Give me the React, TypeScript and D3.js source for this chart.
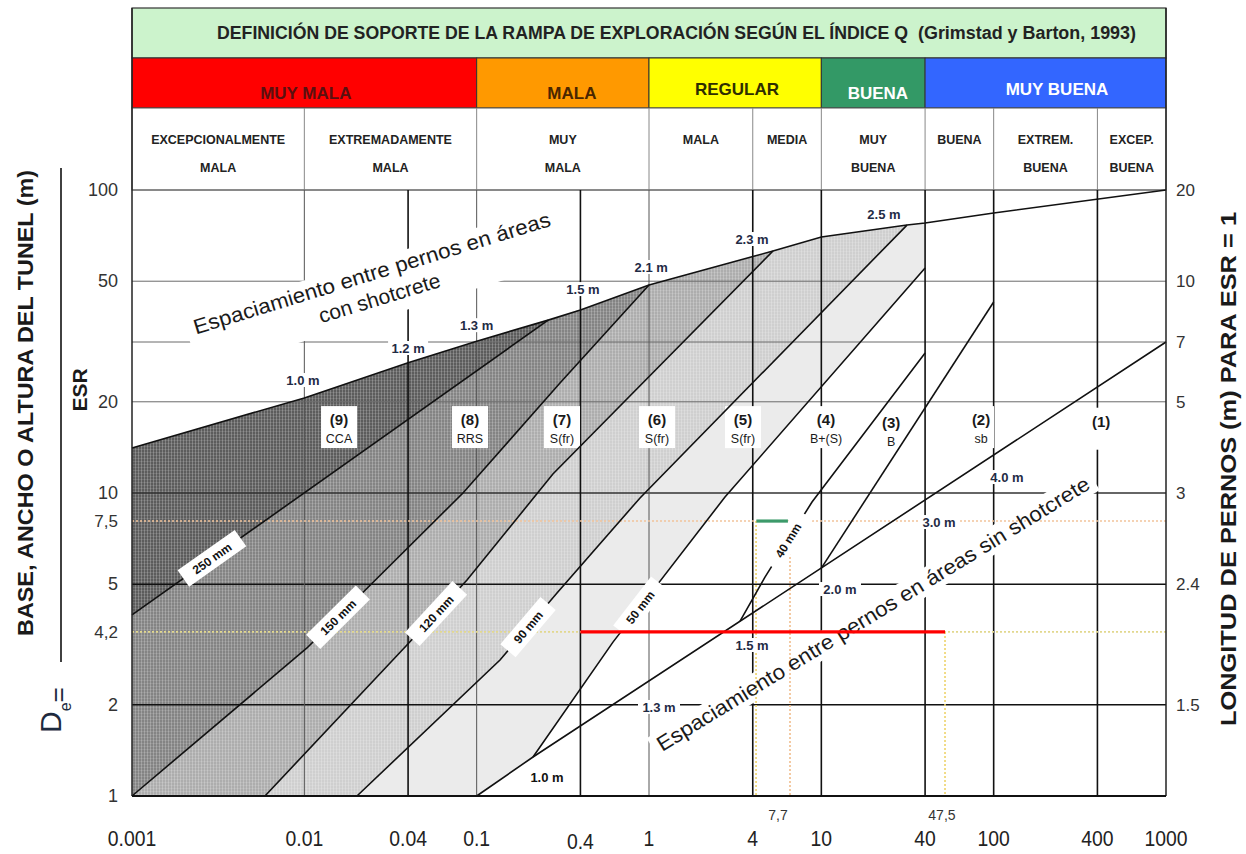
import React from "react";
import * as d3 from "d3";

type P = [number, number];

// ---------- axes ----------
const Q_TICKS = [0.001, 0.01, 0.04, 0.1, 0.4, 1, 4, 10, 40, 100, 400, 1000];
const Q_TICK_LABELS = ["0.001", "0.01", "0.04", "0.1", "0.4", "1", "4", "10", "40", "100", "400", "1000"];
const DE_TICKS = [100, 50, 20, 10, 5, 2, 1];
const DE_TICK_LABELS = ["100", "50", "20", "10", "5", "2", "1"];
const DE_GRID = [100, 50, 31.5, 20, 10, 5, 2];
const RIGHT_DE = [100, 50, 31.5, 20, 10, 5, 2];
const RIGHT_LABELS = ["20", "10", "7", "5", "3", "2.4", "1.5"];
const Q_GRID_MAJOR = [0.04, 0.4, 4, 10, 40, 100, 400];
const Q_GRID_MINOR = [0.01, 0.1, 1];

// ---------- header ----------
const CLASS_NAMES = ["MUY MALA", "MALA", "REGULAR", "BUENA", "MUY BUENA"];
const CLASS_FROM = [0.001, 0.1, 1, 10, 40];
const CLASS_TO = [0.1, 1, 10, 40, 1000];
const CLASS_LABEL_Q = [0.0102, 0.357, 3.24, 21.3, 233];
const CLASS_FILL = ["#ff0000", "#ff9900", "#ffff00", "#339966", "#3366ff"];
const CLASS_TEXT = ["#5a1010", "#4a2600", "#2e2e00", "#ffffff", "#ffffff"];

const QUALITY_BOUNDS = [0.001, 0.01, 0.1, 1, 4, 10, 40, 100, 400, 1000];
const QUALITY_LINE1 = ["EXCEPCIONALMENTE", "EXTREMADAMENTE", "MUY", "MALA", "MEDIA", "MUY", "BUENA", "EXTREM.", "EXCEP."];
const QUALITY_LINE2 = ["MALA", "MALA", "MALA", "", "", "BUENA", "", "BUENA", "BUENA"];

// ---------- support chart lines (Q, De) ----------
const TOP_LINE: P[] = [[0.001, 14.08], [0.01, 20.6], [0.04, 26.9], [0.1, 31.7], [0.26, 37.2], [0.4, 40.2], [1, 48.6], [5.24, 62.9], [10, 70.0], [31.4, 76.6], [40, 77.8], [100, 84.0], [1000, 100]];
const LINE_250: P[] = [[0.001, 3.96], [0.26, 37.2]];
const LINE_150: P[] = [[0.001, 1], [0.01036, 3.08], [0.0833, 10], [0.3045, 23.07], [1, 48.6]];
const LINE_120: P[] = [[0.00591, 1], [0.0394, 3.15], [0.0879, 5.16], [0.277, 11.55], [5.24, 62.9]];
const LINE_90: P[] = [[0.0202, 1], [0.1366, 2.81], [0.2925, 4.68], [0.887, 9.63], [31.4, 76.6]];
const LINE_SPACING: P[] = [[0.1, 1], [0.2123, 1.345], [1000, 31.5]];
const LINE_50: P[] = [[0.2123, 1.345], [0.618, 3.22], [2.76, 9.7], [40, 55.3]];
const LINE_40: P[] = [[3.376, 3.78], [4.71, 5.28], [8.83, 9.34], [40, 28.97]];
const LINE_32: P[] = [[10, 5.65], [100, 42.7]];

const SHOT_TEXT = ["250  mm", "150  mm", "120  mm", "90  mm", "50  mm", "40  mm"];
const SHOT_Q = [0.00291, 0.01568, 0.0581, 0.1986, 0.887, 6.41];

const TOP_M_TEXT = ["1.0  m", "1.2  m", "1.3  m", "1.5  m", "2.1  m", "2.3  m", "2.5  m"];
const TOP_M_Q = [0.00982, 0.04, 0.1, 0.414, 1.03, 3.96, 23.1];
const TOP_M_DE = [23.6, 30.1, 35.8, 47.1, 55.7, 68.9, 83.3];

const LOW_M_TEXT = ["1.0  m", "1.3  m", "1.5  m", "2.0  m", "3.0  m", "4.0  m"];
const LOW_M_Q = [0.256, 1.143, 3.96, 12.83, 48.2, 119.5];
const LOW_M_DE = [1.155, 1.967, 3.15, 4.82, 8.02, 11.29];

const REGION_NUM = ["(9)", "(8)", "(7)", "(6)", "(5)", "(4)", "(3)", "(2)", "(1)"];
const REGION_CODE = ["CCA", "RRS", "S(fr)", "S(fr)", "S(fr)", "B+(S)", "B", "sb", ""];
const REGION_Q = [0.0159, 0.0915, 0.3128, 1.113, 3.51, 10.65, 25.4, 84.5, 420];
const REGION_DE = [16.5, 16.5, 16.5, 16.5, 16.5, 16.5, 16.2, 16.5, 16.3];

// ---------- design annotations ----------
const REF_DE = [8.08, 3.48];
const REF_LABELS = ["7,5", "4,2"];
const RED_DE = 3.48;
const RED_Q = [0.4, 52.2];
const GREEN_DE = 8.08;
const GREEN_Q = [4.2, 6.4];
const VDOT_Q = [4.18, 6.58, 52.2];
const VDOT_TOP = [8.08, 8.08, 3.48];
const QMARK_Q = [5.61, 50.1];
const QMARK_LABELS = ["7,7", "47,5"];

const UPPER_TEXT_ANCHOR: P = [0.0257, 46.7];
const LOWER_TEXT_ANCHOR: P = [21.0, 3.81];

const FONT = "'Liberation Sans', Arial, sans-serif";

export default function App() {
  const x = d3.scaleLog().domain([0.001, 1000]).range([132, 1166]);
  const y = d3.scaleLog().domain([1, 100]).range([796, 190]);
  const line = d3.line<P>().x((d) => x(d[0])).y((d) => y(d[1]));
  const poly = (pts: P[]) => line(pts) + "Z";
  const rev = (pts: P[]) => pts.slice().reverse();
  const topBetween = (a: number, b: number) => TOP_LINE.filter((p) => p[0] > a && p[0] < b);

  const along = (pts: P[], q: number) => {
    for (let i = 0; i < pts.length - 1; i++) {
      const [q0, d0] = pts[i];
      const [q1, d1] = pts[i + 1];
      if (q >= q0 && q <= q1) {
        const t = (Math.log(q) - Math.log(q0)) / (Math.log(q1) - Math.log(q0));
        const de = Math.exp(Math.log(d0) + t * (Math.log(d1) - Math.log(d0)));
        const ang = (Math.atan2(y(d1) - y(d0), x(q1) - x(q0)) * 180) / Math.PI;
        return { px: x(q), py: y(de), ang };
      }
    }
    return { px: x(q), py: 0, ang: 0 };
  };

  const regions = [
    { fill: "#5c5c5c", tex: true, pts: [...TOP_LINE.filter((p) => p[0] <= LINE_250[1][0]), ...rev(LINE_250)] },
    { fill: "#848484", tex: true, pts: [...LINE_250, ...topBetween(0.26, 1), ...rev(LINE_150)] },
    { fill: "#adadad", tex: true, pts: [...LINE_150, ...topBetween(1, 5.24), ...rev(LINE_120)] },
    { fill: "#cfcfcf", tex: true, pts: [...LINE_120, ...topBetween(5.24, 31.4), ...rev(LINE_90)] },
    { fill: "#ebebeb", tex: false, pts: [...LINE_90, ...topBetween(31.4, 41), LINE_50[LINE_50.length - 1], ...rev(LINE_50), LINE_SPACING[0]] },
  ];

  const shotLines = [LINE_250, LINE_150, LINE_120, LINE_90, LINE_50, LINE_40];
  const boundaryLines = [TOP_LINE, LINE_250, LINE_150, LINE_120, LINE_90, LINE_SPACING, LINE_50, LINE_40, LINE_32];

  const X0 = x(0.001);
  const X1 = x(1000);
  const YB = y(1);
  const YT = y(100);

  const upA = [x(UPPER_TEXT_ANCHOR[0]), y(UPPER_TEXT_ANCHOR[1])];
  const loA = [x(LOWER_TEXT_ANCHOR[0]), y(LOWER_TEXT_ANCHOR[1])];

  return (
    <svg width={1246} height={854} style={{ position: "absolute", left: 0, top: 0, background: "#fff" }} fontFamily={FONT}>
      <defs>
        <pattern id="tex" width="3" height="3" patternUnits="userSpaceOnUse">
          <rect x="0" y="0" width="1" height="3" fill="#ffffff" opacity="0.22" />
          <rect x="0" y="2" width="3" height="1" fill="#ffffff" opacity="0.12" />
        </pattern>
      </defs>
      <rect x={0} y={0} width={1246} height={854} fill="#fff" />

      {/* header: title */}
      <rect x={X0} y={8} width={X1 - X0} height={50} fill="#ccf3cc" stroke="#333" strokeWidth={1.2} />
      <text x={217} y={39} fontSize={18} fontWeight="bold" fill="#222" textLength={691} lengthAdjust="spacingAndGlyphs">
        DEFINICIÓN DE SOPORTE  DE LA RAMPA DE EXPLORACIÓN SEGÚN EL ÍNDICE Q
      </text>
      <text x={918} y={39} fontSize={18} fontWeight="bold" fill="#222" textLength={218} lengthAdjust="spacingAndGlyphs">
        (Grimstad y Barton, 1993)
      </text>

      {/* header: rock mass classes */}
      {CLASS_NAMES.map((n, i) => (
        <g key={n}>
          <rect x={x(CLASS_FROM[i])} y={58} width={x(CLASS_TO[i]) - x(CLASS_FROM[i])} height={50} fill={CLASS_FILL[i]} stroke="#333" strokeWidth={1} />
          <text x={x(CLASS_LABEL_Q[i])} y={i === 2 || i === 4 ? 95 : 99} textAnchor="middle" fontSize={17} fontWeight="bold" fill={CLASS_TEXT[i]}>
            {n}
          </text>
        </g>
      ))}

      {/* header: quality row */}
      <rect x={X0} y={108} width={X1 - X0} height={YT - 108} fill="#fff" stroke="#555" strokeWidth={1} />
      {QUALITY_LINE1.map((t, i) => {
        const cx = (x(QUALITY_BOUNDS[i]) + x(QUALITY_BOUNDS[i + 1])) / 2;
        return (
          <g key={"q" + i} fontWeight="bold" fontSize={12.5} fill="#222" textAnchor="middle">
            <text x={cx} y={144}>{t}</text>
            {QUALITY_LINE2[i] && <text x={cx} y={172}>{QUALITY_LINE2[i]}</text>}
          </g>
        );
      })}
      {QUALITY_BOUNDS.slice(1, -1).map((q) => (
        <line key={"hd" + q} x1={x(q)} x2={x(q)} y1={108} y2={YT} stroke="#888" strokeWidth={1} />
      ))}

      {/* shaded support regions */}
      {regions.map((r, i) => (
        <g key={"r" + i}>
          <path d={poly(r.pts)} fill={r.fill} />
          {r.tex && <path d={poly(r.pts)} fill="url(#tex)" />}
        </g>
      ))}

      {/* grid */}
      {DE_GRID.map((d) => (
        <line key={"h" + d} x1={X0} x2={X1} y1={y(d)} y2={y(d)}
          stroke={d <= 5 ? "#111" : d === 10 ? "#333" : "#6b6b6b"} strokeWidth={d <= 5 ? 1.5 : d === 10 ? 1.3 : 1} />
      ))}
      {Q_GRID_MINOR.map((q) => (
        <line key={"vm" + q} x1={x(q)} x2={x(q)} y1={YT} y2={YB} stroke="#555" strokeWidth={1} />
      ))}
      {Q_GRID_MAJOR.map((q) => (
        <line key={"vM" + q} x1={x(q)} x2={x(q)} y1={YT} y2={YB} stroke="#111" strokeWidth={1.6} />
      ))}

      {/* white boxes behind the big labels */}
      <g transform={`translate(${upA[0]},${upA[1]}) rotate(-17)`}>
        <rect x={-192} y={-30} width={382} height={58} fill="#fff" />
      </g>
      <g transform={`translate(${loA[0]},${loA[1]}) rotate(-31.6)`}>
        <rect x={-258} y={-20} width={516} height={26} fill="#fff" />
      </g>

      {/* region label boxes */}
      {REGION_NUM.map((n, i) => (
        <rect key={"rb" + i} x={x(REGION_Q[i]) - (i < 5 ? 18 : 13)} y={y(REGION_DE[i]) - 21} width={i < 5 ? 36 : 26} height={42} fill="#fff" />
      ))}

      {/* reference dotted lines */}
      <line x1={X0} x2={X1} y1={y(REF_DE[0])} y2={y(REF_DE[0])} stroke="#f2c39a" strokeWidth={1.6} strokeDasharray="2,2" />
      <line x1={X0} x2={X1} y1={y(REF_DE[1])} y2={y(REF_DE[1])} stroke="#e2d88e" strokeWidth={1.6} strokeDasharray="2,2" />
      {VDOT_Q.map((q, i) => (
        <line key={"vd" + i} x1={x(q)} x2={x(q)} y1={y(VDOT_TOP[i])} y2={YB} stroke={i === 1 ? "#f0bd8c" : "#eed36a"} strokeWidth={1.6} strokeDasharray="2,2" />
      ))}

      {/* boundary lines */}
      {boundaryLines.map((l, i) => (
        <path key={"bl" + i} d={line(l) || ""} fill="none" stroke="#111" strokeWidth={1.6} />
      ))}

      {/* borders */}
      <line x1={X0} x2={X0} y1={8} y2={YB} stroke="#222" strokeWidth={1.5} />
      <line x1={X1} x2={X1} y1={8} y2={YB} stroke="#222" strokeWidth={1.5} />
      <line x1={X0} x2={X1} y1={YB} y2={YB} stroke="#111" strokeWidth={2} />

      {/* shotcrete thickness labels */}
      {SHOT_TEXT.map((t, i) => {
        const a = along(shotLines[i], SHOT_Q[i]);
        const w = t.length * 8 + 14;
        return (
          <g key={"st" + i} transform={`translate(${a.px},${a.py}) rotate(${a.ang})`}>
            <rect x={-w / 2} y={-10} width={w} height={20} fill="#fff" />
            <text x={0} y={4.5} textAnchor="middle" fontSize={12} fontWeight="bold" fill="#111">{t}</text>
          </g>
        );
      })}

      {/* spacing labels on top line */}
      {TOP_M_TEXT.map((t, i) => (
        <g key={"tm" + i}>
          <rect x={x(TOP_M_Q[i]) - 20} y={y(TOP_M_DE[i]) - 7} width={40} height={14} fill="#fff" />
          <text x={x(TOP_M_Q[i])} y={y(TOP_M_DE[i]) + 5} textAnchor="middle" fontSize={13} fontWeight="bold" fill="#1f2b45">{t}</text>
        </g>
      ))}
      {LOW_M_TEXT.map((t, i) => (
        <g key={"lm" + i}>
          <rect x={x(LOW_M_Q[i]) - 21} y={y(LOW_M_DE[i]) - 7} width={42} height={14} fill="#fff" />
          <text x={x(LOW_M_Q[i])} y={y(LOW_M_DE[i]) + 5} textAnchor="middle" fontSize={13} fontWeight="bold" fill={i === 0 ? "#111" : "#1f2b45"}>{t}</text>
        </g>
      ))}

      {/* region labels */}
      {REGION_NUM.map((n, i) => (
        <g key={"rl" + i} textAnchor="middle" fill="#1a1a1a">
          <text x={x(REGION_Q[i])} y={y(REGION_DE[i]) - 2} fontSize={15} fontWeight="bold">{n}</text>
          {REGION_CODE[i] && <text x={x(REGION_Q[i])} y={y(REGION_DE[i]) + 16} fontSize={12.5}>{REGION_CODE[i]}</text>}
        </g>
      ))}

      {/* big inclined labels */}
      <g transform={`translate(${upA[0]},${upA[1]}) rotate(-17)`} fill="#1a1a1a" textAnchor="middle" fontSize={21}>
        <text x={2} y={-10} textLength={372} lengthAdjust="spacingAndGlyphs">Espaciamiento entre pernos en áreas</text>
        <text x={2} y={16}>con shotcrete</text>
      </g>
      <g transform={`translate(${loA[0]},${loA[1]}) rotate(-31.6)`} fill="#1a1a1a" textAnchor="middle" fontSize={21}>
        <text x={0} y={0} textLength={504} lengthAdjust="spacingAndGlyphs">Espaciamiento entre pernos en áreas sin shotcrete</text>
      </g>

      {/* design lines */}
      <line x1={x(RED_Q[0])} x2={x(RED_Q[1])} y1={y(RED_DE)} y2={y(RED_DE)} stroke="#ff0000" strokeWidth={3.2} />
      <line x1={x(GREEN_Q[0])} x2={x(GREEN_Q[1])} y1={y(GREEN_DE)} y2={y(GREEN_DE)} stroke="#3c9a6a" strokeWidth={3.2} />

      {/* left axis labels */}
      {DE_TICKS.map((d, i) => (
        <text key={"yl" + d} x={118} y={y(d) + 6} textAnchor="end" fontSize={18} fill="#333">{DE_TICK_LABELS[i]}</text>
      ))}
      {REF_DE.map((d, i) => (
        <text key={"yr" + i} x={118} y={y(d) + 6} textAnchor="end" fontSize={17} fill="#333">{REF_LABELS[i]}</text>
      ))}
      {/* right axis labels */}
      {RIGHT_DE.map((d, i) => (
        <text key={"rl2" + i} x={1176} y={y(d) + 6} fontSize={17} fill="#333">{RIGHT_LABELS[i]}</text>
      ))}
      {/* x axis labels */}
      {Q_TICKS.map((q, i) => (
        <g key={"xl" + q} transform={`translate(${x(q)},${q === 0.4 ? 849 : 846}) scale(0.88,1)`}>
          <text x={0} y={0} textAnchor="middle" fontSize={22} fill="#222">{Q_TICK_LABELS[i]}</text>
        </g>
      ))}
      {QMARK_Q.map((q, i) => (
        <text key={"qm" + i} x={x(q)} y={820} textAnchor="middle" fontSize={14} fill="#333">{QMARK_LABELS[i]}</text>
      ))}

      {/* axis titles */}
      <text transform="translate(33,403) rotate(-90)" textAnchor="middle" fontSize={22} fontWeight="bold" fill="#1a1a1a" textLength={466} lengthAdjust="spacingAndGlyphs">
        BASE, ANCHO O ALTURA DEL TUNEL (m)
      </text>
      <text transform="translate(87,390) rotate(-90)" textAnchor="middle" fontSize={21} fontWeight="bold" fill="#1a1a1a">ESR</text>
      <line x1={61} x2={61} y1={168} y2={662} stroke="#111" strokeWidth={1.6} />
      <text transform="translate(61,733) rotate(-90)" fontSize={30} fill="#1e2a3e">
        D<tspan fontSize={16} dy={10}>e</tspan><tspan fontSize={26} dy={-4}>=</tspan>
      </text>
      <text transform="translate(1236,469) rotate(-90)" textAnchor="middle" fontSize={22} fontWeight="bold" fill="#1a1a1a" textLength={514} lengthAdjust="spacingAndGlyphs">
        LONGITUD DE PERNOS (m) PARA ESR = 1
      </text>
    </svg>
  );
}
